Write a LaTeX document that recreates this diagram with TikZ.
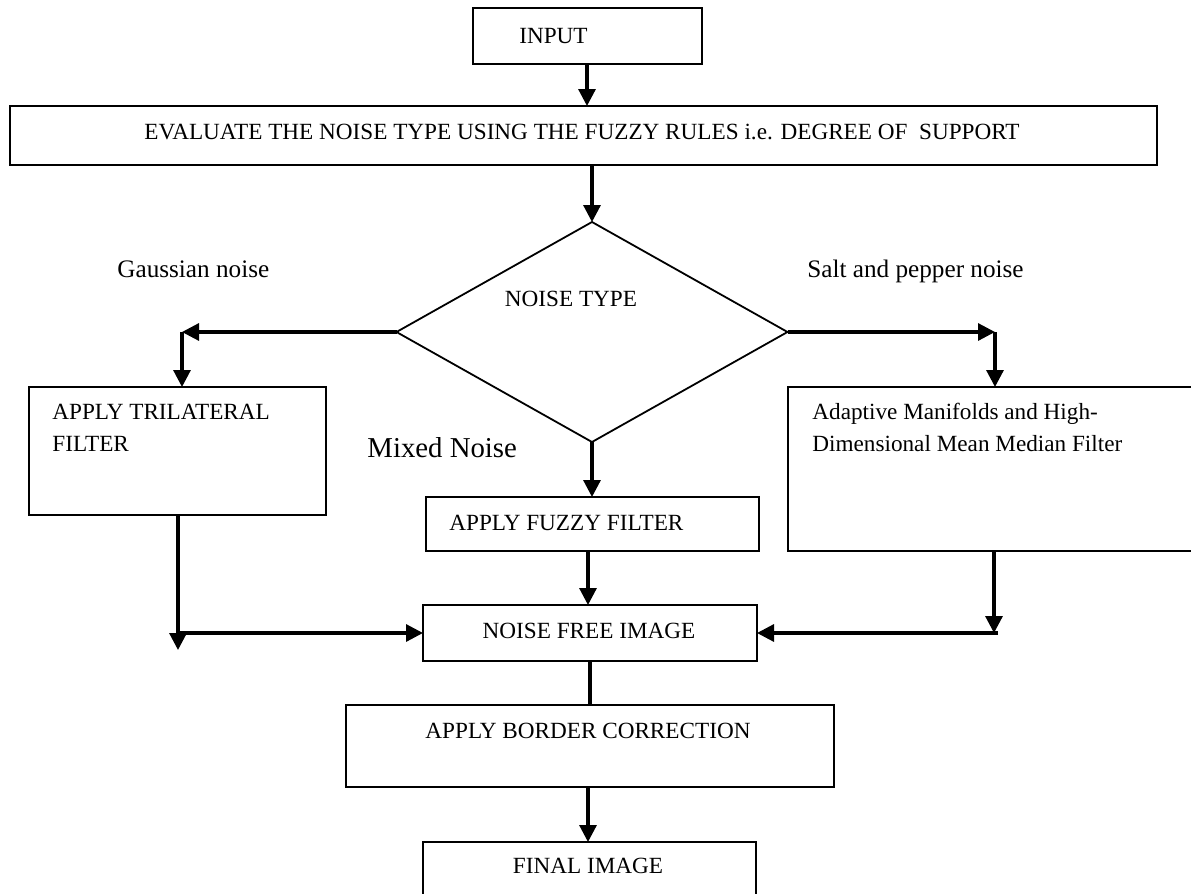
\documentclass[tikz,border=0pt]{standalone}
\usepackage{fontspec}
\setmainfont{Liberation Serif}
\usetikzlibrary{arrows.meta,shapes.geometric,calc}
\begin{document}
\begin{tikzpicture}[x=0.5pt,y=-0.5pt,
  box/.style={draw,line width=1.1pt,rectangle,inner sep=0pt,outer sep=0pt},
  dia/.style={draw,line width=0.9pt,diamond,inner sep=0pt,outer sep=0pt},
  txt/.style={inner sep=0pt,font=\fontsize{11.6}{16}\selectfont},
  lbl/.style={inner sep=0pt,font=\fontsize{12.6}{16}\selectfont},
  big/.style={inner sep=0pt,font=\fontsize{14.4}{18}\selectfont},
  arr/.style={line width=1.6pt,-{Triangle[length=8.5pt,width=8.5pt]}},
  ln/.style={line width=1.6pt}]
\clip (0,0) rectangle (1191,894);
\fill[white] (0,0) rectangle (1191,894);
% boxes
\node[box,minimum width=114.5pt,minimum height=28pt] (input) at (587.5,36) {};
\node[box,minimum width=573.5pt,minimum height=29.5pt] (eval) at (583.5,135.5) {};
\node[dia,minimum width=195.5pt,minimum height=110pt] (type) at (592,332) {};
\node[box,minimum width=148.5pt,minimum height=64pt] (tri) at (177.5,451) {};
\node[box,minimum width=231pt,minimum height=82pt] (adapt) at (1019,469) {};
\node[box,minimum width=166.5pt,minimum height=27pt] (fuzzy) at (592.5,524) {};
\node[box,minimum width=167pt,minimum height=28pt] (nfree) at (590,633) {};
\node[box,minimum width=244pt,minimum height=41pt] (border) at (590,746) {};
\node[box,minimum width=166.5pt,minimum height=39pt] (final) at (589.5,881) {};
% texts
\node[txt,anchor=base] (tinput) at (553.5,43) {INPUT};
\node[txt,anchor=base] (teval) at (582,140) {EVALUATE THE NOISE TYPE USING THE FUZZY RULES i.e. DEGREE OF \ SUPPORT};
\node[txt,anchor=base] (ttype) at (571,306) {NOISE TYPE};
\node[txt,anchor=base west] (ttri1) at (52,419) {APPLY TRILATERAL};
\node[txt,anchor=base west] (ttri2) at (52,451) {FILTER};
\node[txt,anchor=base west] (tad1) at (812,419) {Adaptive Manifolds and High-};
\node[txt,anchor=base west] (tad2) at (812,451) {Dimensional Mean Median Filter};
\node[txt,anchor=base west] (tfuzzy) at (449,530) {APPLY FUZZY FILTER};
\node[txt,anchor=base] (tnfree) at (589,638) {NOISE FREE IMAGE};
\node[txt,anchor=base] (tborder) at (588,738) {APPLY BORDER CORRECTION};
\node[txt,anchor=base] (tfinal) at (588,873) {FINAL IMAGE};
\node[lbl,anchor=base west] (lgauss) at (117,277) {Gaussian noise};
\node[lbl,anchor=base west] (lsalt) at (807,277) {Salt and pepper noise};
\node[big,anchor=base west] (lmixed) at (367,457) {Mixed Noise};
% junction points
\coordinate (gl) at (182,332);
\coordinate (gr) at (995,332);
\coordinate (tl) at (178,650);
\coordinate (hl) at (178,633);
\coordinate (tr) at (994,633);
\coordinate (hr) at (998,633);
% connectors
\draw[arr] (587,64) coordinate (in1) -- (in1 |- eval.north);
\draw[arr] (type.north |- eval.south) -- (type.north);
\draw[arr] (type.west) -- (gl);
\draw[arr] (gl) -- (gl |- tri.north);
\draw[arr] (type.east) -- (gr);
\draw[arr] (gr) -- (gr |- adapt.north);
\draw[arr] (type.south) -- (type.south |- fuzzy.north);
\draw[arr] (588,551) coordinate (fz) -- (fz |- nfree.north);
\draw[arr] (tri.south -| tl) -- (tl);
\draw[arr] (hl) -- (hl -| nfree.west);
\draw[arr] (adapt.south -| tr) -- (tr);
\draw[arr] (hr) -- (hr -| nfree.east);
\draw[ln] (nfree.south) -- (border.north);
\draw[arr] (588,787) coordinate (bd) -- (bd |- final.north);
\end{tikzpicture}
\end{document}
